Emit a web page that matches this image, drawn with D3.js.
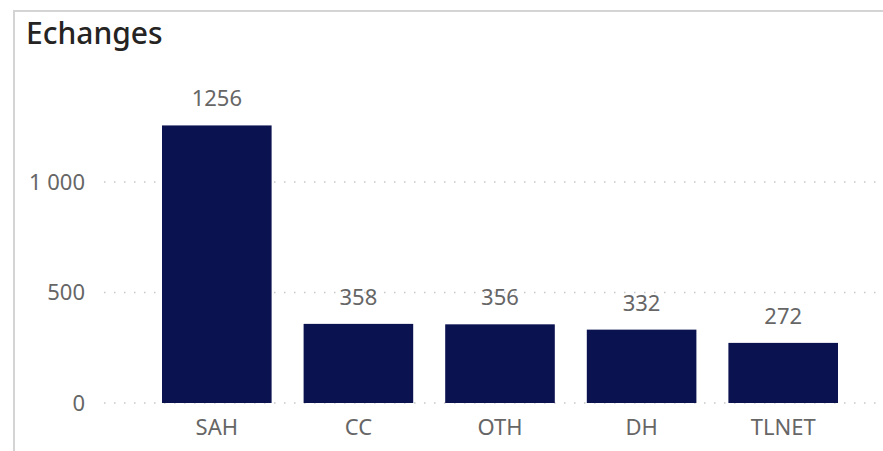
<!DOCTYPE html>
<html>
<head>
<meta charset="utf-8">
<script src="https://cdn.jsdelivr.net/npm/d3@7"></script>
<style>
  body { margin: 0; background: #fff; }
  svg { display: block; }
  text { font-family: "Segoe UI", "Noto Sans", sans-serif; }
</style>
</head>
<body>
<svg id="chart" width="883" height="451"></svg>
<script>
// chart data
var categories = ["SAH", "CC", "OTH", "DH", "TLNET"];
var values = [1256, 358, 356, 332, 272];
var yTicks = [0, 500, 1000];
var title = "Echanges";

var svg = d3.select("#chart");
var W = 883, H = 451;

// card border (left + top)
svg.append("path")
  .attr("d", "M14,451 L14,11 L883,11")
  .attr("fill", "none")
  .attr("stroke", "#d4d4d4")
  .attr("stroke-width", 2);

svg.append("text")
  .attr("x", 26)
  .attr("y", 44)
  .attr("font-size", 30)
  .attr("font-weight", 500)
  .attr("fill", "#252423")
  .text(title);

var x = d3.scaleBand()
  .domain(categories)
  .range([130, 870])
  .paddingInner(0.226)
  .paddingOuter(0.226);

var y = d3.scaleLinear()
  .domain([0, 1000])
  .range([403, 182]);

var fmt = d3.formatLocale({ decimal: ",", thousands: "\u00a0", grouping: [3], currency: ["", " €"] }).format(",d");

// dotted grid lines
svg.append("g").selectAll("line")
  .data(yTicks)
  .join("line")
  .attr("x1", 104)
  .attr("x2", W)
  .attr("y1", d => y(d))
  .attr("y2", d => y(d))
  .attr("stroke", "#c8c8c8")
  .attr("stroke-width", 1.5)
  .attr("stroke-dasharray", "1.5,8.5");

// y axis
var yAxis = d3.axisLeft(y).tickValues(yTicks).tickFormat(fmt).tickSize(0).tickPadding(0);
var gy = svg.append("g").attr("transform", "translate(85,0)").call(yAxis);
gy.select(".domain").remove();
gy.selectAll("text")
  .attr("font-size", 22)
  .attr("fill", "#666666")
  .style("font-family", "'Segoe UI', 'Noto Sans', sans-serif");

// bars
svg.append("g").selectAll("rect")
  .data(values)
  .join("rect")
  .attr("x", (d, i) => x(categories[i]))
  .attr("width", x.bandwidth())
  .attr("y", d => y(d))
  .attr("height", d => y(0) - y(d))
  .attr("fill", "#0b1250");

// data labels
svg.append("g").selectAll("text")
  .data(values)
  .join("text")
  .attr("x", (d, i) => x(categories[i]) + x.bandwidth() / 2)
  .attr("y", d => y(d) - 19)
  .attr("text-anchor", "middle")
  .attr("font-size", 22)
  .attr("fill", "#666666")
  .text(d => d);

// x axis
var xAxis = d3.axisBottom(x).tickSize(0).tickPadding(0);
var gx = svg.append("g").attr("transform", "translate(0,403)").call(xAxis);
gx.select(".domain").remove();
gx.selectAll("text")
  .attr("dy", 0)
  .attr("y", 32)
  .attr("font-size", 22)
  .attr("fill", "#666666")
  .style("font-family", "'Segoe UI', 'Noto Sans', sans-serif");
</script>
</body>
</html>
